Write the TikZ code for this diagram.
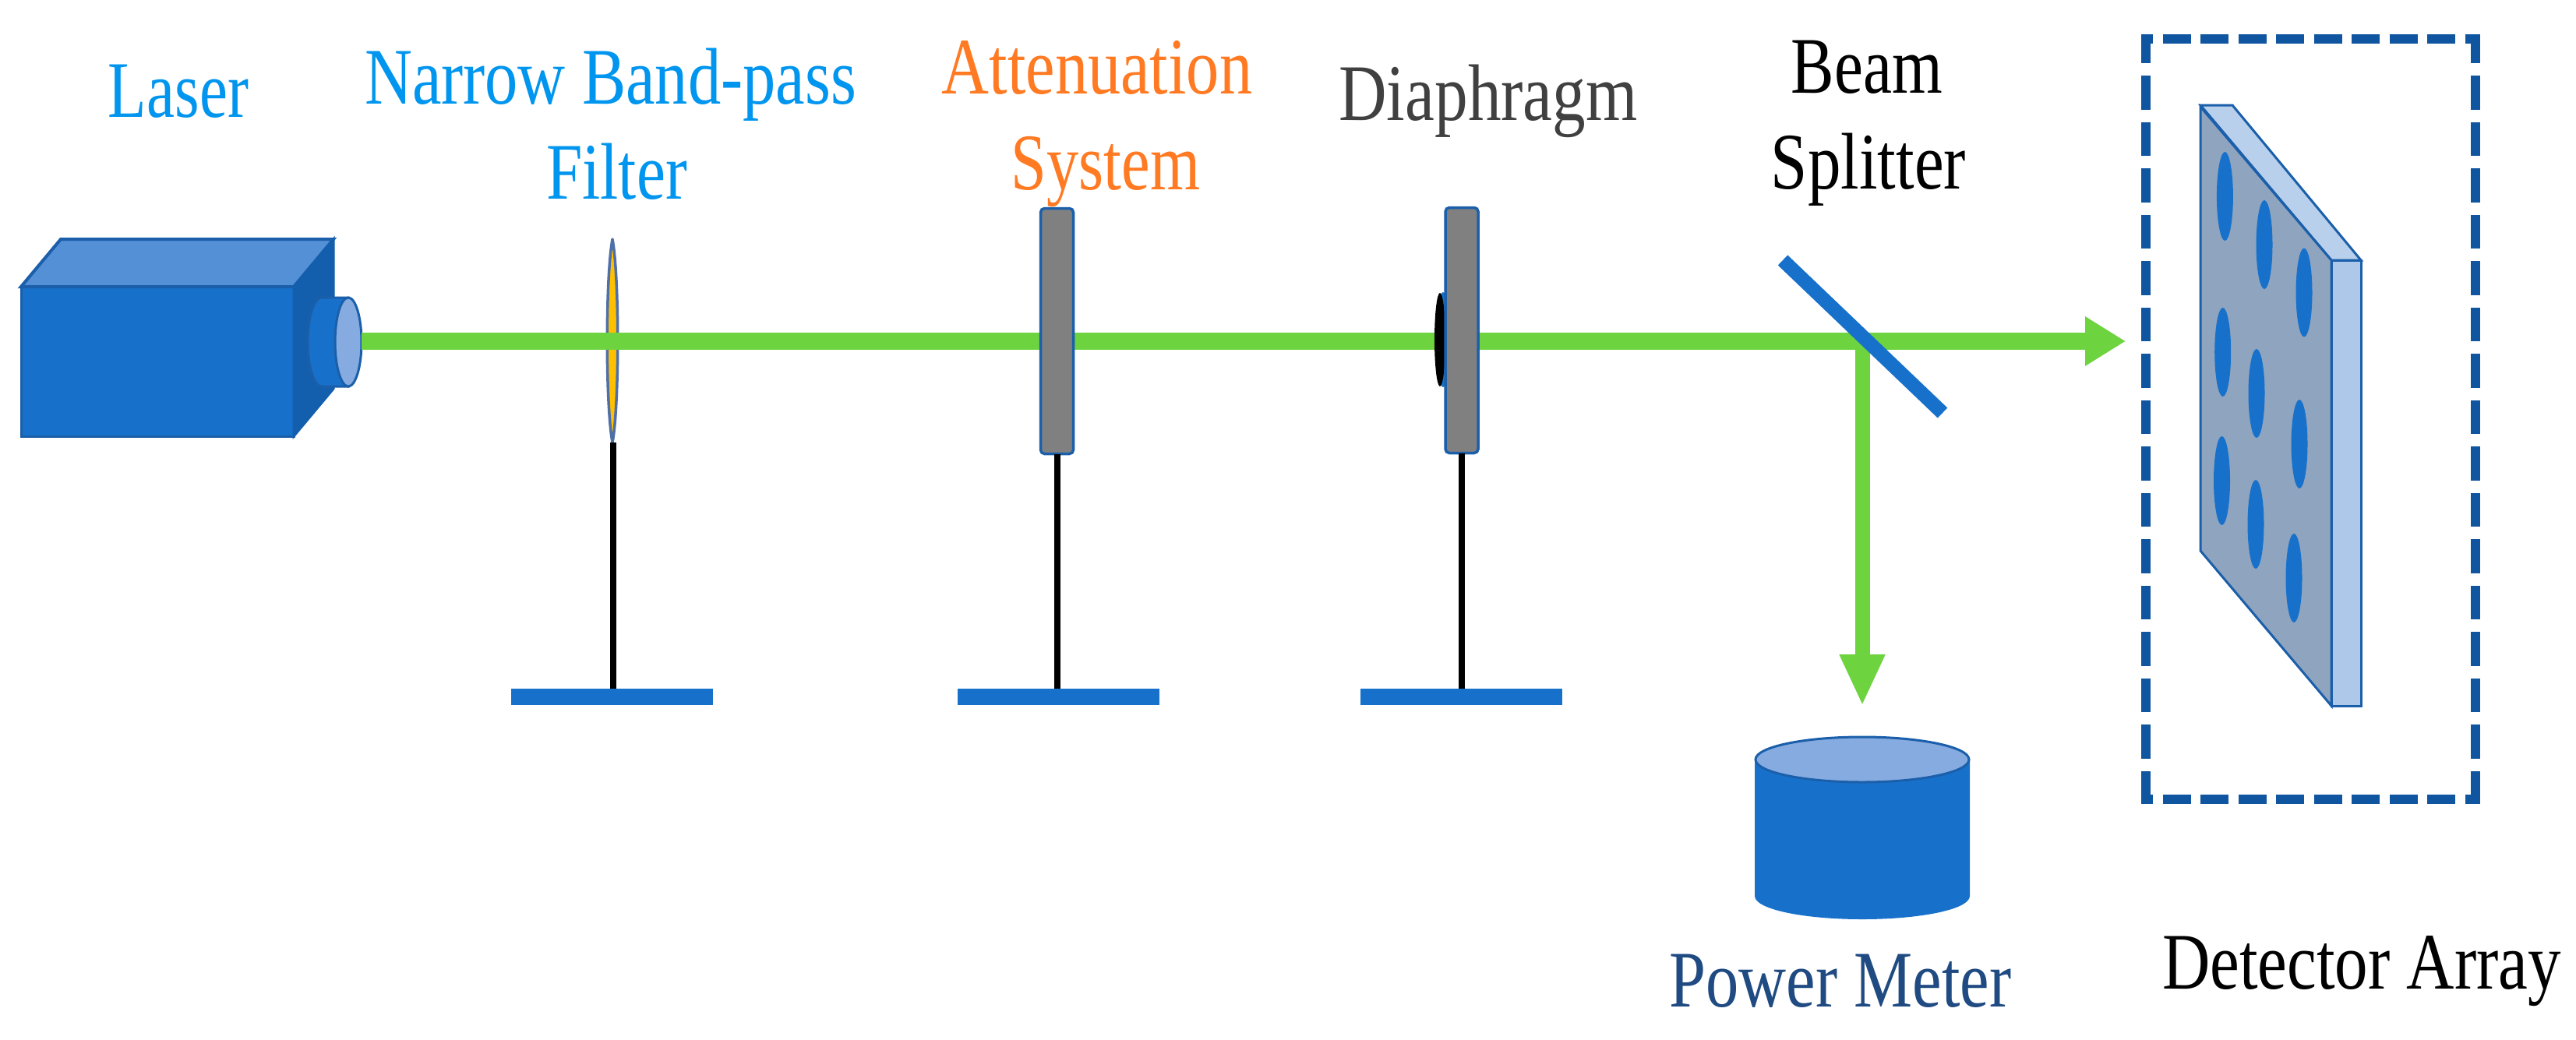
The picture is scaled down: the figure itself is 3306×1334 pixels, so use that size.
\documentclass[tikz,border=0pt]{standalone}
\usepackage{graphicx}
\usepackage{fontspec}
\setmainfont{Liberation Serif}
\usetikzlibrary{arrows.meta,shapes.geometric}
\definecolor{front}{HTML}{1771CB}
\definecolor{topface}{HTML}{5390D5}
\definecolor{sideface}{HTML}{145FAD}
\definecolor{lensface}{HTML}{85ABE0}
\definecolor{edge}{HTML}{1B5FAA}
\definecolor{beamgreen}{HTML}{6DD33F}
\definecolor{dashblue}{HTML}{0F559F}
\definecolor{skytext}{HTML}{0095EE}
\definecolor{orangetext}{HTML}{FF7A22}
\definecolor{navytext}{HTML}{1F4A82}
\definecolor{greytext}{HTML}{404040}
\definecolor{panelfront}{HTML}{8EA4BF}
\definecolor{paneltop}{HTML}{B8D0EC}
\definecolor{panelside}{HTML}{ADC8E8}
\definecolor{filteryellow}{HTML}{FFC000}
\definecolor{filteredge}{HTML}{4F6FA8}
\definecolor{holdergrey}{HTML}{808080}
\newcommand{\hs}[2]{\scalebox{#1}[1]{#2}}
\tikzset{
  lbl/.style={font=\fontsize{103}{110}\selectfont, inner sep=0pt, outer sep=0pt, anchor=base},
  beamh/.style={draw=beamgreen, line width=22pt, -{Triangle[length=52pt,width=60pt]}},
  beamv/.style={draw=beamgreen, line width=19pt, -{Triangle[length=66pt,width=54pt]}},
  holder/.style={draw=edge, line width=3.5pt, fill=holdergrey, rounded corners=5pt, minimum width=42pt, minimum height=315pt, inner sep=0pt, outer sep=0pt},
  standbase/.style={fill=front, minimum width=259pt, minimum height=21pt, inner sep=0pt, outer sep=0pt},
  post/.style={draw=black, line width=8pt},
  face/.style={draw=edge, line width=3pt},
  hole/.style={fill=front},
  dashv/.style={draw=dashblue, line width=12pt, dash pattern=on 43.5pt off 16pt, dash phase=6.5pt},
  dashh/.style={draw=dashblue, line width=12pt, dash pattern=on 36pt off 12.5pt, dash phase=21pt},
  disc/.style={ellipse, inner sep=0pt, outer sep=0pt}
}
\begin{document}
\begin{tikzpicture}[x=1pt,y=-1pt]
\useasboundingbox (0,0) rectangle (3306,1334);
\fill[white] (0,0) rectangle (3306,1334);

% labels
\node[lbl,text=skytext] (tlaser) at (229,150) {\hs{.787}{Laser}};
\node[lbl,text=skytext] (tnarrow) at (783.5,133) {\hs{.82}{Narrow Band-pass}};
\node[lbl,text=skytext] (tfilter) at (791.5,255) {\hs{.81}{Filter}};
\node[lbl,text=orangetext] (tatt) at (1408,120) {\hs{.819}{Attenuation}};
\node[lbl,text=orangetext] (tsys) at (1419,243) {\hs{.8}{System}};
\node[lbl,text=greytext] (tdia) at (1910,154) {\hs{.827}{Diaphragm}};
\node[lbl,text=black] (tbeam) at (2396,119) {\hs{.808}{Beam}};
\node[lbl,text=black] (tsplit) at (2398,242) {\hs{.825}{Splitter}};
\node[lbl,text=navytext] (tpower) at (2362,1292) {\hs{.82}{Power Meter}};
\node[lbl,text=black] (tdet) at (3031,1269) {\hs{.825}{Detector Array}};

% laser
\fill[front,draw=edge,line width=3pt] (27,368) rectangle (377,560);
\draw[fill=topface,draw=edge,line width=4pt] (27,368) -- (78,307) -- (428,307) -- (377,368) -- cycle;
\draw[fill=sideface,draw=sideface,line width=3pt] (377,368) -- (428,307) -- (428,499) -- (377,560) -- cycle;
\draw[fill=front,draw=edge,line width=3pt] (447,382) -- (413,382) arc[start angle=90,end angle=270,x radius=18pt,y radius=57pt] -- (447,496) -- cycle;
\node[disc,draw=edge,line width=3pt,fill=lensface,minimum width=34pt,minimum height=114pt] (lens) at (447,439) {};
\coordinate (lensout) at (464,438);
\coordinate (split) at (2390,438);
\coordinate (dettip) at (2728,438);
\coordinate (pmtip) at (2390,906);

% filter
\draw[draw=filteredge,line width=3.5pt,line join=round,fill=filteryellow] (786,307) .. controls (795,355) and (795,520) .. (786,568) .. controls (777,520) and (777,355) .. (786,307) -- cycle;
\coordinate (filtbot) at (787,568);
\node[standbase] (base1) at (785.5,894) {};
\node[standbase] (base2) at (1358.5,894) {};
\node[standbase] (base3) at (1875,894) {};
\draw[post] (filtbot) -- (base1.north -| filtbot);

% beam
\draw[beamh] (lensout) -- (dettip);
\draw[beamv] (split) -- (pmtip);

% attenuation and diaphragm
\node[holder] (att) at (1356.5,425) {};
\draw[post] (att.south) -- (base2.north -| att.south);
\node[disc,fill=front,minimum width=18pt,minimum height=122pt] (dia0) at (1852,436) {};
\node[disc,fill=black,minimum width=14pt,minimum height=120pt] (dia1) at (1848,436) {};
\node[holder] (dia) at (1876,424) {};
\draw[post] (dia.south) -- (base3.north -| dia.south);

% splitter
\draw[draw=front,line width=18pt] (2288,334) -- (2493,530);

% power meter
\draw[fill=front,draw=front,line width=2pt] (2253,975) -- (2253,1150) arc[start angle=180,end angle=360,x radius=137pt,y radius=29pt] -- (2527,975) -- cycle;
\node[disc,draw=edge,line width=3pt,fill=lensface,minimum width=274pt,minimum height=58pt] (pmtop) at (2390,975) {};

% detector
\draw[face,fill=paneltop] (2824,135) -- (2865,135) -- (3030,334) -- (2992,334) -- cycle;
\draw[face,fill=panelside] (2992,334) -- (3030,334) -- (3030,906) -- (2992,906) -- cycle;
\draw[face,fill=panelfront] (2824,137) -- (2992,334) -- (2992,906) -- (2824,707) -- cycle;
\foreach \hx/\hy in {2855.4/252,2906/314,2957/375.5,2852.7/452,2896/505,2951/570,2851.5/617,2895/673,2944/742}
  \fill[hole] (\hx,\hy) ellipse[x radius=10.5pt,y radius=57pt];

% dashed frame
\draw[dashh] (2748,50) -- (3183,50);
\draw[dashv] (2754,44) -- (2754,1032);
\draw[dashv] (3177,44) -- (3177,1032);
\draw[dashh] (2748,1026) -- (3183,1026);
\end{tikzpicture}
\end{document}
